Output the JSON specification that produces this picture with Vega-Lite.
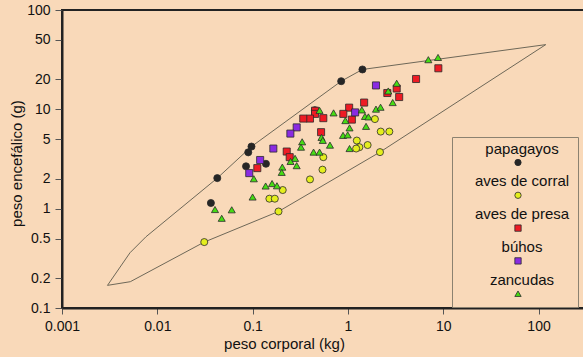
{
  "$schema": "https://vega.github.io/schema/vega-lite/v6.json",
  "width": 522,
  "height": 298,
  "autosize": {"type": "none"},
  "padding": {"left": 62, "top": 10, "right": 0, "bottom": 49},
  "background": "#f9d9b9",
  "config": {"view": {"stroke": "#222222", "strokeWidth": 2}, "font": "Liberation Sans"},
  "datasets": {
    "env": [
      {"i": 0, "x": 0.0030, "y": 0.169},
      {"i": 1, "x": 0.00517, "y": 0.36},
      {"i": 2, "x": 0.0076, "y": 0.521},
      {"i": 3, "x": 0.0426, "y": 2.03},
      {"i": 4, "x": 0.0973, "y": 4.22},
      {"i": 5, "x": 0.85, "y": 19.2},
      {"i": 6, "x": 1.42, "y": 25.2},
      {"i": 7, "x": 119, "y": 44.8},
      {"i": 8, "x": 2.17, "y": 3.71},
      {"i": 9, "x": 0.187, "y": 0.937},
      {"i": 10, "x": 0.0311, "y": 0.461},
      {"i": 11, "x": 0.00521, "y": 0.184},
      {"i": 12, "x": 0.0030, "y": 0.169}
    ],
    "birds": [
      {"g": "papagayos", "x": 1.42, "y": 25.2},
      {"g": "papagayos", "x": 0.85, "y": 19.2},
      {"g": "papagayos", "x": 0.45, "y": 9.8},
      {"g": "papagayos", "x": 0.0973, "y": 4.22},
      {"g": "papagayos", "x": 0.090, "y": 3.69},
      {"g": "papagayos", "x": 0.0853, "y": 2.67},
      {"g": "papagayos", "x": 0.138, "y": 2.83},
      {"g": "papagayos", "x": 0.0426, "y": 2.03},
      {"g": "papagayos", "x": 0.0365, "y": 1.14},
      {"g": "aves de corral", "x": 1.92, "y": 7.98},
      {"g": "aves de corral", "x": 2.21, "y": 5.97},
      {"g": "aves de corral", "x": 2.72, "y": 5.97},
      {"g": "aves de corral", "x": 1.24, "y": 4.85},
      {"g": "aves de corral", "x": 1.61, "y": 4.37},
      {"g": "aves de corral", "x": 1.32, "y": 4.16},
      {"g": "aves de corral", "x": 1.22, "y": 4.03},
      {"g": "aves de corral", "x": 2.17, "y": 3.71},
      {"g": "aves de corral", "x": 0.552, "y": 3.30},
      {"g": "aves de corral", "x": 0.541, "y": 2.47},
      {"g": "aves de corral", "x": 0.40, "y": 1.97},
      {"g": "aves de corral", "x": 0.207, "y": 1.54},
      {"g": "aves de corral", "x": 0.150, "y": 1.26},
      {"g": "aves de corral", "x": 0.171, "y": 1.26},
      {"g": "aves de corral", "x": 0.187, "y": 0.937},
      {"g": "aves de corral", "x": 0.0311, "y": 0.461},
      {"g": "aves de presa", "x": 8.89, "y": 25.9},
      {"g": "aves de presa", "x": 5.19, "y": 20.2},
      {"g": "aves de presa", "x": 3.25, "y": 16.2},
      {"g": "aves de presa", "x": 2.59, "y": 14.6},
      {"g": "aves de presa", "x": 3.45, "y": 13.3},
      {"g": "aves de presa", "x": 1.48, "y": 11.7},
      {"g": "aves de presa", "x": 1.03, "y": 10.4},
      {"g": "aves de presa", "x": 0.895, "y": 9.0},
      {"g": "aves de presa", "x": 1.10, "y": 7.88},
      {"g": "aves de presa", "x": 0.552, "y": 8.15},
      {"g": "aves de presa", "x": 0.452, "y": 9.69},
      {"g": "aves de presa", "x": 0.452, "y": 9.0},
      {"g": "aves de presa", "x": 0.40, "y": 8.07},
      {"g": "aves de presa", "x": 0.340, "y": 8.07},
      {"g": "aves de presa", "x": 0.523, "y": 5.89},
      {"g": "aves de presa", "x": 0.228, "y": 3.76},
      {"g": "aves de presa", "x": 0.245, "y": 3.30},
      {"g": "aves de presa", "x": 0.112, "y": 2.56},
      {"g": "búhos", "x": 1.97, "y": 17.4},
      {"g": "búhos", "x": 1.19, "y": 9.31},
      {"g": "búhos", "x": 0.290, "y": 6.58},
      {"g": "búhos", "x": 0.249, "y": 5.70},
      {"g": "búhos", "x": 0.165, "y": 4.03},
      {"g": "búhos", "x": 0.120, "y": 3.09},
      {"g": "búhos", "x": 0.0922, "y": 2.28},
      {"g": "zancudas", "x": 6.98, "y": 31.6},
      {"g": "zancudas", "x": 8.82, "y": 33.3},
      {"g": "zancudas", "x": 3.25, "y": 18.3},
      {"g": "zancudas", "x": 2.65, "y": 15.3},
      {"g": "zancudas", "x": 2.95, "y": 11.7},
      {"g": "zancudas", "x": 1.97, "y": 10.05},
      {"g": "zancudas", "x": 2.20, "y": 10.5},
      {"g": "zancudas", "x": 1.40, "y": 9.87},
      {"g": "zancudas", "x": 1.51, "y": 8.49},
      {"g": "zancudas", "x": 1.64, "y": 8.39},
      {"g": "zancudas", "x": 0.707, "y": 9.21},
      {"g": "zancudas", "x": 0.94, "y": 7.7},
      {"g": "zancudas", "x": 0.504, "y": 9.76},
      {"g": "zancudas", "x": 1.55, "y": 6.74},
      {"g": "zancudas", "x": 1.04, "y": 6.51},
      {"g": "zancudas", "x": 0.889, "y": 5.47},
      {"g": "zancudas", "x": 0.995, "y": 5.53},
      {"g": "zancudas", "x": 0.648, "y": 4.36},
      {"g": "zancudas", "x": 1.04, "y": 4.03},
      {"g": "zancudas", "x": 0.436, "y": 3.71},
      {"g": "zancudas", "x": 0.504, "y": 3.71},
      {"g": "zancudas", "x": 0.331, "y": 4.71},
      {"g": "zancudas", "x": 0.322, "y": 4.16},
      {"g": "zancudas", "x": 0.528, "y": 5.22},
      {"g": "zancudas", "x": 0.545, "y": 4.87},
      {"g": "zancudas", "x": 0.279, "y": 3.21},
      {"g": "zancudas", "x": 0.250, "y": 2.99},
      {"g": "zancudas", "x": 0.290, "y": 2.71},
      {"g": "zancudas", "x": 0.205, "y": 2.62},
      {"g": "zancudas", "x": 0.202, "y": 2.32},
      {"g": "zancudas", "x": 0.103, "y": 2.0},
      {"g": "zancudas", "x": 0.137, "y": 1.69},
      {"g": "zancudas", "x": 0.160, "y": 1.79},
      {"g": "zancudas", "x": 0.180, "y": 1.70},
      {"g": "zancudas", "x": 0.100, "y": 1.31},
      {"g": "zancudas", "x": 0.0403, "y": 0.98},
      {"g": "zancudas", "x": 0.0604, "y": 0.974},
      {"g": "zancudas", "x": 0.0474, "y": 0.80}
    ]
  },
  "layer": [
    {
      "data": {"name": "env"},
      "mark": {"type": "line", "stroke": "#6e6858", "strokeWidth": 1},
      "encoding": {
        "x": {"field": "x", "type": "quantitative",
          "scale": {"type": "log", "domain": [0.001, 300], "nice": false},
          "axis": {"title": "peso corporal (kg)", "values": [0.001, 0.01, 0.1, 1, 10, 100], "format": "~g", "grid": false,
            "domainColor": "#222222", "domainWidth": 2, "tickColor": "#555555", "tickSize": 6, "tickWidth": 1,
            "labelFontSize": 14, "labelColor": "#111111", "labelPadding": 5, "labelFlush": false, "labelOverlap": false,
            "titleFontSize": 15, "titleFontWeight": "normal", "titleColor": "#111111", "titlePadding": 3, "titleX": 222}},
        "y": {"field": "y", "type": "quantitative",
          "scale": {"type": "log", "domain": [0.1, 100], "nice": false},
          "axis": {"title": "peso encefálico (g)", "values": [0.1, 0.2, 0.5, 1, 2, 5, 10, 20, 50, 100], "format": "~g", "grid": false,
            "domainColor": "#222222", "domainWidth": 2, "tickColor": "#555555", "tickSize": 7, "tickWidth": 1,
            "labelFontSize": 14, "labelColor": "#111111", "labelPadding": 5, "labelFlush": false, "labelOverlap": false,
            "titleFontSize": 15, "titleFontWeight": "normal", "titleColor": "#111111", "titlePadding": 2, "titleY": 153}},
        "order": {"field": "i", "type": "quantitative"}
      }
    },
    {
      "data": {"name": "birds"},
      "mark": {"type": "point", "filled": true, "opacity": 1, "stroke": "#2a2a2a", "strokeWidth": 0.8},
      "encoding": {
        "x": {"field": "x", "type": "quantitative"},
        "y": {"field": "y", "type": "quantitative"},
        "color": {"field": "g", "type": "nominal",
          "scale": {"domain": ["papagayos", "aves de corral", "aves de presa", "búhos", "zancudas"],
                    "range": ["#262626", "#e4ee1e", "#ee1b24", "#8a2be2", "#46dc14"]},
          "legend": {"title": " ", "titleFontSize": 1, "titlePadding": 9, "orient": "none", "legendX": 390, "legendY": 127, "direction": "vertical",
            "labelFontSize": 15, "labelColor": "#111111", "labelAlign": "center", "labelOffset": 47,
            "labelExpr": "'  ' + datum.label + '  '", "labelLimit": 300,
            "symbolSize": 40, "symbolStrokeColor": "#2a2a2a", "symbolStrokeWidth": 0.8,
            "rowPadding": 5.8, "padding": 8, "strokeColor": "#8c8270", "fillColor": "#f9d9b9",
            "encoding": {"labels": {"dy": {"value": -14}}, "symbols": {"x": {"value": 58}}}}},
        "shape": {"field": "g", "type": "nominal",
          "scale": {"domain": ["papagayos", "aves de corral", "aves de presa", "búhos", "zancudas"],
                    "range": ["circle", "circle", "square", "square", "triangle-up"]}},
        "size": {"value": 50}
      }
    }
  ]
}
